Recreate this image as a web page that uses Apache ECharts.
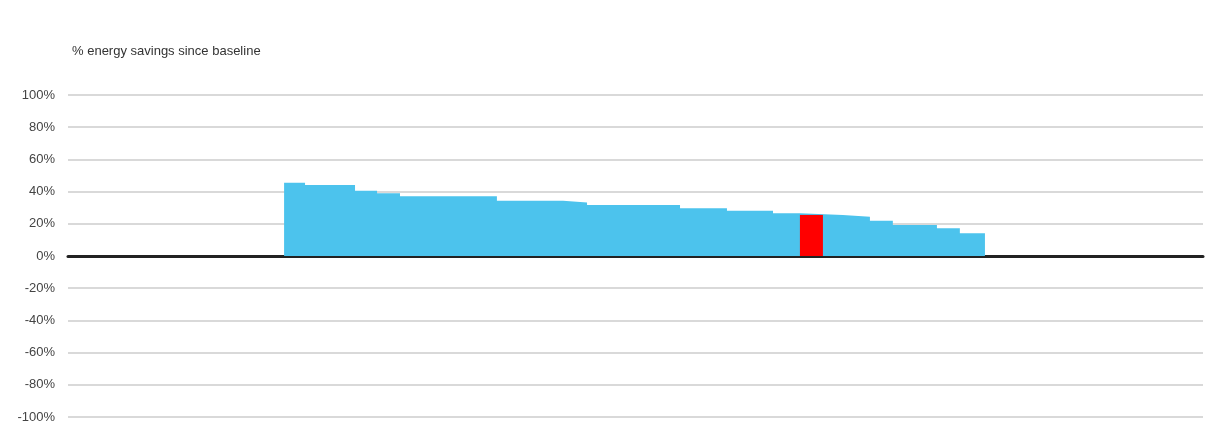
<!DOCTYPE html>
<html>
<head>
<meta charset="utf-8">
<script src="https://cdn.jsdelivr.net/npm/echarts@6/dist/echarts.min.js"></script>
<style>
    html, body { margin: 0; padding: 0; background: #fff; }
    #main { width: 1206px; height: 435px; }
</style>
</head>
<body>
<div id="main"></div>
<script>
    // week of the year where each step begins, and the savings (%) held from there
    let stepWeeks = [9.9, 10.86, 13.15, 14.16, 15.21, 19.65, 22.68, 23.78, 28.04, 30.19, 32.3, 33.53, 35.5, 36.74, 37.79, 39.81, 40.86, 42.01]
    let stepValues = [45.5, 44.1, 40.6, 38.9, 37.1, 34.3, 33.3, 31.7, 29.6, 28.1, 26.5, 25.5, 24.4, 21.9, 19.3, 17.2, 14.1, 14.1]
    // the current week, drawn in red
    let currentWeek = [34.06]
    let currentValue = [25.5]
    let yTicks = [-100, -80, -60, -40, -20, 0, 20, 40, 60, 80, 100]

    let myChart = echarts.init(document.getElementById('main'))

    let blueData = stepWeeks.map((w, i) => [w, stepValues[i]])
    let redData = currentWeek.map((w, i) => [w, currentValue[i]])

    myChart.setOption({
        animation: false,
        title: {
            text: '% energy savings since baseline',
            left: 67,
            top: 40,
            textStyle: {
                fontFamily: '"Liberation Sans", sans-serif',
                fontSize: 13,
                fontWeight: 'normal',
                color: '#333'
            }
        },
        grid: {
            left: 68,
            right: 3,
            top: 95,
            bottom: 18
        },
        xAxis: {
            type: 'value',
            min: 0,
            max: 52,
            axisLabel: {show: false},
            axisTick: {show: false},
            splitLine: {show: false},
            axisLine: {
                onZero: true,
                lineStyle: {color: '#222', width: 3}
            }
        },
        yAxis: {
            type: 'value',
            min: yTicks[0],
            max: yTicks[yTicks.length - 1],
            interval: 20,
            axisLine: {show: false},
            axisTick: {show: false},
            axisLabel: {
                formatter: '{value}%',
                margin: 13,
                fontFamily: '"Liberation Sans", sans-serif',
                fontSize: 13,
                color: '#444'
            },
            splitLine: {
                lineStyle: {color: '#cccccc', width: 1.5}
            }
        },
        series: [
            {
                type: 'line',
                step: 'end',
                data: blueData,
                symbol: 'none',
                lineStyle: {width: 0},
                areaStyle: {color: '#4cc3ed', opacity: 1},
                z: 2
            },
            {
                type: 'bar',
                data: redData,
                barWidth: 23,
                itemStyle: {color: '#ff0000'},
                z: 3
            }
        ]
    })
</script>
</body>
</html>
